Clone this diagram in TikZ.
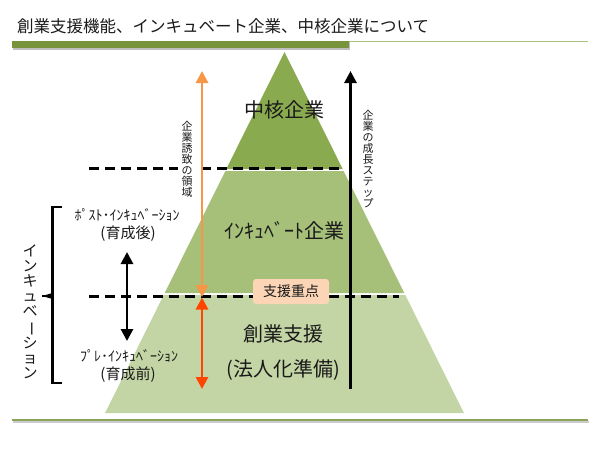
\documentclass[tikz,border=0pt]{standalone}
\usepackage{fontspec}
\setmainfont{Noto Sans CJK JP}
\usetikzlibrary{arrows.meta}
\definecolor{topg}{HTML}{8AAA50}
\definecolor{midg}{HTML}{A6C07A}
\definecolor{botg}{HTML}{C3D5A5}
\definecolor{barg}{HTML}{77933C}
\definecolor{lineg}{HTML}{A9C283}
\definecolor{ltorange}{HTML}{F79646}
\definecolor{redor}{HTML}{FF4500}
\definecolor{peach}{HTML}{FBD5B5}
\definecolor{txt}{HTML}{1A1A1A}
\tikzset{
  fs/.style={font=\fontsize{#1}{#1}\selectfont},
  lbl/.style={text=txt, inner sep=0pt},
  vtxt/.style={lbl, align=center, font=\fontsize{#1}{#1}\selectfont},
  dline/.style={line width=3pt, dash pattern=on 10pt off 6pt},
  garrow/.style={line width=2.8pt, -{Triangle[width=12pt,length=12pt]}},
  garrow2/.style={line width=2.8pt, {Triangle[width=12pt,length=12pt]}-{Triangle[width=12pt,length=12pt]}},
}
\begin{document}
\begin{tikzpicture}[x=1pt,y=-1pt]
\useasboundingbox (0,0) rectangle (600,450);
\fill[white] (0,0) rectangle (600,450);
% title
\node[lbl, anchor=west, fs=16.5] (title) at (17,26) {創業支援機能、インキュベート企業、中核企業について};
\draw[lineg, line width=1pt] (349,41.5) -- (588,41.5);
\fill[black!25] (13,42) rectangle (350,49.5);
\fill[barg] (12,41) rectangle (349,48);
% bottom line
\draw[black!20, line width=1.5pt] (13,422) -- (589,422);
\draw[barg!85, line width=1.8pt] (12,420) -- (588,420);
% pyramid layers
\fill[botg] (163.7,295) -- (405.3,295) -- (463.9,413) -- (105.1,413) -- cycle;
\fill[midg] (225.4,171) -- (343.6,171) -- (404.3,293) -- (164.7,293) -- cycle;
\fill[topg] (284.5,52) -- (342.7,169) -- (226.3,169) -- cycle;
% dashed lines
\coordinate (d1a) at (89,168);
\coordinate (d1b) at (344,168);
\coordinate (d2a) at (89,296);
\coordinate (d2b) at (399,296);
\draw[dline] (d1a) -- (d1b);
\draw[dline] (d2a) -- (d2b);
% layer labels
\node[lbl, fs=20] (chukaku) at (284.5,110) {中核企業};
\node[lbl, fs=20] (incub) at (284.5,231) {ｲﾝｷｭﾍﾞｰﾄ企業};
\node[lbl, fs=20] (sogyo) at (283,334) {創業支援};
\node[lbl, fs=20] (hojin) at (283,370) {(法人化準備)};
% support box
\node[fill=peach, rounded corners=3pt, minimum width=76pt, minimum height=25pt, inner sep=0pt, text=txt, fs=14] (jyuten) at (291,291.5) {支援重点};
% orange arrows
\coordinate (ot) at (202,71);
\coordinate (ob) at (202,297);
\coordinate (rt) at (202,297.5);
\coordinate (rb) at (202,389);
\node[vtxt=11, fill=white, inner xsep=4pt, inner ysep=1pt] (yuchi) at (187,159) {企\\業\\誘\\致\\の\\領\\域};
\draw[ltorange, garrow2] (ot) -- (ob);
\draw[redor, garrow2] (rt) -- (rb);
% growth arrow
\coordinate (gb) at (350.5,389);
\coordinate (gt) at (350.5,71);
\draw[black, garrow] (gb) -- (gt);
\node[vtxt=11] (seicho) at (368,159) {企\\業\\の\\成\\長\\ス\\テ\\ッ\\プ};
% left side
\node[lbl, fs=14] (post) at (127,215) {ﾎﾟｽﾄ･ｲﾝｷｭﾍﾞｰｼｮﾝ};
\node[lbl, fs=15] (postb) at (128,234) {(育成後)};
\node[lbl, fs=14] (pre) at (129,356) {ﾌﾟﾚ･ｲﾝｷｭﾍﾞｰｼｮﾝ};
\node[lbl, fs=15] (preb) at (128,375) {(育成前)};
\coordinate (bt) at (127,252);
\coordinate (bb) at (127,341);
\draw[black, garrow2] (bt) -- (bb);
% brace
\coordinate (br1) at (62,207);
\coordinate (br2) at (62,383);
\coordinate (brm) at (42,296);
\draw[line width=2.2pt] (br1) -- (52.5,207) -- (52.5,383) -- (br2);
\fill (52.5,293) -- (brm) -- (52.5,299) -- cycle;
\draw[line width=1.6pt] (52.5,296) -- (brm);
\node[vtxt=15] (incubv) at (30,312) {イ\\ン\\キ\\ュ\\ベ\\\rotatebox[origin=c]{-90}{ー}\\シ\\ョ\\ン};
\end{tikzpicture}
\end{document}
